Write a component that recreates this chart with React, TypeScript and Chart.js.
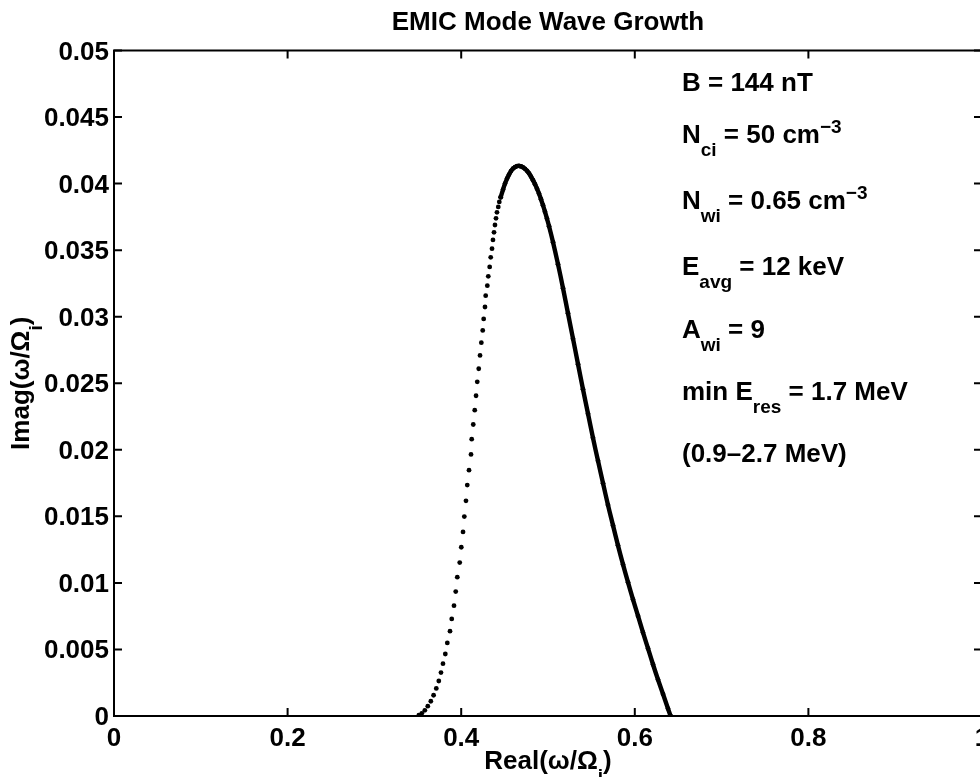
import React, { useEffect, useRef } from "react";
import { Chart, registerables } from "chart.js";

Chart.register(...registerables);

// ---- Data ----
// Rising flank: individually visible dots
const flankRe = [
  0.3512, 0.3546, 0.3581, 0.3615, 0.365, 0.3682, 0.3713, 0.3742, 0.3767, 0.379,
  0.3817, 0.384, 0.3871, 0.3891, 0.3917, 0.3937, 0.3955, 0.3983, 0.4001, 0.4021,
  0.4036, 0.4055, 0.407, 0.409, 0.4113, 0.4121, 0.4139, 0.4156, 0.4171, 0.4185,
  0.4202, 0.4217, 0.4232, 0.4248, 0.4259, 0.4274, 0.4282, 0.4301, 0.4312, 0.4328,
  0.434, 0.4355, 0.4366, 0.4378, 0.4389, 0.4401, 0.4412, 0.4427, 0.4439, 0.4455,
];
const flankIm = [
  0.00006, 0.0002, 0.00043, 0.00074, 0.00111, 0.00156, 0.00207, 0.00263, 0.00326, 0.00393,
  0.00466, 0.00549, 0.00637, 0.00729, 0.00829, 0.00935, 0.01043, 0.01153, 0.01268, 0.01383,
  0.01498, 0.01617, 0.01735, 0.01847, 0.01965, 0.0208, 0.0219, 0.02298, 0.02406, 0.02511,
  0.02609, 0.02709, 0.02805, 0.02897, 0.02983, 0.03073, 0.03158, 0.03233, 0.03303, 0.03374,
  0.03446, 0.03511, 0.03577, 0.03634, 0.03689, 0.03739, 0.03784, 0.03825, 0.03862, 0.03897,
];
// Crest and falling flank: densely packed dots
const crestRe = [
  0.4455, 0.4482, 0.4505, 0.4528, 0.4551, 0.4574, 0.4597, 0.462, 0.4643, 0.4666,
  0.4689, 0.4712, 0.4735, 0.4758, 0.4781, 0.4804, 0.4827, 0.485, 0.4873, 0.4896,
  0.4919, 0.4942, 0.4965, 0.4988, 0.5012, 0.5058, 0.5115, 0.5173, 0.523, 0.5288,
  0.5346, 0.5403, 0.5461, 0.5518, 0.5576, 0.5634, 0.5691, 0.5749, 0.5806, 0.5864,
  0.5922, 0.5979, 0.6037, 0.6094, 0.6152, 0.621, 0.6267, 0.6325, 0.6382, 0.6412,
];
const crestIm = [
  0.03897, 0.03955, 0.04, 0.04038, 0.04068, 0.04094, 0.04113, 0.04124, 0.04132, 0.04133,
  0.04129, 0.04122, 0.04111, 0.04096, 0.04077, 0.04053, 0.04026, 0.03996, 0.03962, 0.03925,
  0.03883, 0.03838, 0.03789, 0.03737, 0.0368, 0.0356, 0.03395, 0.03214, 0.03026, 0.02835,
  0.02643, 0.02455, 0.02271, 0.0209, 0.01917, 0.01748, 0.01586, 0.01432, 0.01282, 0.01139,
  0.01004, 0.00876, 0.00752, 0.00628, 0.00508, 0.00387, 0.00274, 0.00165, 0.00056, 0.0,
];

const xTickValues = [0, 0.2, 0.4, 0.6, 0.8, 1];
const xTickLabels = ["0", "0.2", "0.4", "0.6", "0.8", "1"];
const yTickValues = [0, 0.005, 0.01, 0.015, 0.02, 0.025, 0.03, 0.035, 0.04, 0.045, 0.05];
const yTickLabels = ["0", "0.005", "0.01", "0.015", "0.02", "0.025", "0.03", "0.035", "0.04", "0.045", "0.05"];

const titleText = "EMIC Mode Wave Growth";
type Part = { t: string; s?: "sub" | "sup" };
const xLabelParts: Part[] = [{ t: "Real(ω/Ω" }, { t: "i", s: "sub" }, { t: ")" }];
const yLabelParts: Part[] = [{ t: "Imag(ω/Ω" }, { t: "i", s: "sub" }, { t: ")" }];
const annotationLines: Part[][] = [
  [{ t: "B = 144 nT" }],
  [{ t: "N" }, { t: "ci", s: "sub" }, { t: " = 50 cm" }, { t: "−3", s: "sup" }],
  [{ t: "N" }, { t: "wi", s: "sub" }, { t: " = 0.65 cm" }, { t: "−3", s: "sup" }],
  [{ t: "E" }, { t: "avg", s: "sub" }, { t: " = 12 keV" }],
  [{ t: "A" }, { t: "wi", s: "sub" }, { t: " = 9" }],
  [{ t: "min E" }, { t: "res", s: "sub" }, { t: " = 1.7 MeV" }],
  [{ t: "(0.9–2.7 MeV)" }],
];
const annotationBaselines = [91, 143, 209, 275, 338, 400, 462];

const FAMILY = '"Liberation Sans", Arial, Helvetica, sans-serif';
const MAIN_FONT = `bold 26px ${FAMILY}`;
const SMALL_FONT = `bold 19px ${FAMILY}`;

function partsWidth(ctx: CanvasRenderingContext2D, parts: Part[]) {
  let w = 0;
  for (const p of parts) {
    ctx.font = p.s ? SMALL_FONT : MAIN_FONT;
    w += ctx.measureText(p.t).width;
  }
  return w;
}

function drawParts(ctx: CanvasRenderingContext2D, parts: Part[], x: number, y: number) {
  let cx = x;
  ctx.textBaseline = "alphabetic";
  ctx.textAlign = "left";
  for (const p of parts) {
    ctx.font = p.s ? SMALL_FONT : MAIN_FONT;
    const dy = p.s === "sub" ? 13 : p.s === "sup" ? -10 : 0;
    ctx.fillText(p.t, cx, y + dy);
    cx += ctx.measureText(p.t).width;
  }
}

const framePlugin = {
  id: "matlabFrame",
  afterDraw(chart: any) {
    const ctx: CanvasRenderingContext2D = chart.ctx;
    const { left, right, top, bottom } = chart.chartArea;
    const xs = chart.scales.x;
    const ys = chart.scales.y;
    const TL = 8;
    ctx.save();
    ctx.strokeStyle = "#000";
    ctx.fillStyle = "#000";
    ctx.lineWidth = 2;
    ctx.strokeRect(left, top, right - left, bottom - top);
    ctx.beginPath();
    xTickValues.forEach((v) => {
      const px = xs.getPixelForValue(v);
      ctx.moveTo(px, bottom);
      ctx.lineTo(px, bottom - TL);
      ctx.moveTo(px, top);
      ctx.lineTo(px, top + TL);
    });
    yTickValues.forEach((v) => {
      const py = ys.getPixelForValue(v);
      ctx.moveTo(left, py);
      ctx.lineTo(left + TL, py);
      ctx.moveTo(right, py);
      ctx.lineTo(right - TL, py);
    });
    ctx.stroke();

    // tick labels
    ctx.font = MAIN_FONT;
    ctx.textBaseline = "alphabetic";
    ctx.textAlign = "center";
    xTickValues.forEach((v, i) => {
      ctx.fillText(xTickLabels[i], xs.getPixelForValue(v), bottom + 30);
    });
    ctx.textAlign = "right";
    yTickValues.forEach((v, i) => {
      ctx.fillText(yTickLabels[i], left - 5, ys.getPixelForValue(v) + 9);
    });

    // title
    ctx.textAlign = "center";
    ctx.fillText(titleText, (left + right) / 2, 30);

    // x label
    const xw = partsWidth(ctx, xLabelParts);
    drawParts(ctx, xLabelParts, (left + right) / 2 - xw / 2, 769);

    // y label (rotated)
    const yw = partsWidth(ctx, yLabelParts);
    ctx.save();
    ctx.translate(29, (top + bottom) / 2);
    ctx.rotate(-Math.PI / 2);
    drawParts(ctx, yLabelParts, -yw / 2, 0);
    ctx.restore();

    // annotations
    annotationLines.forEach((parts, i) => {
      drawParts(ctx, parts, 682, annotationBaselines[i]);
    });
    ctx.restore();
  },
};

export default function App() {
  const canvasRef = useRef<HTMLCanvasElement | null>(null);

  useEffect(() => {
    const canvas = canvasRef.current;
    if (!canvas) return;
    const flank = flankRe.map((x, i) => ({ x, y: flankIm[i] }));
    const crest = crestRe.map((x, i) => ({ x, y: crestIm[i] }));
    const chart = new Chart(canvas, {
      type: "scatter",
      data: {
        datasets: [
          {
            label: "rising",
            data: flank,
            showLine: false,
            pointRadius: 2.4,
            pointBorderWidth: 0,
            pointBackgroundColor: "#000",
            pointBorderColor: "#000",
          },
          {
            label: "crest",
            data: crest,
            showLine: true,
            borderColor: "#000",
            borderWidth: 4.4,
            tension: 0.4,
            pointRadius: 2.4,
            pointBorderWidth: 0,
            pointBackgroundColor: "#000",
            pointBorderColor: "#000",
          },
        ],
      },
      options: {
        responsive: false,
        animation: false,
        events: [],
        layout: { padding: { left: 0, top: 50.5, right: 8, bottom: 0 } },
        plugins: {
          legend: { display: false },
          title: { display: false },
          tooltip: { enabled: false },
        },
        scales: {
          x: {
            type: "linear",
            min: 0,
            max: 1,
            grid: { display: false },
            border: { display: false },
            ticks: { display: false },
            afterFit: (s: any) => {
              s.height = 61;
            },
          },
          y: {
            type: "linear",
            min: 0,
            max: 0.05,
            grid: { display: false },
            border: { display: false },
            ticks: { display: false },
            afterFit: (s: any) => {
              s.width = 114;
            },
          },
        },
      },
      plugins: [framePlugin],
    });
    return () => chart.destroy();
  }, []);

  return (
    <div
      style={{
        position: "absolute",
        left: 0,
        top: 0,
        width: 980,
        height: 777,
        overflow: "hidden",
        background: "#fff",
      }}
    >
      <canvas ref={canvasRef} width={990} height={777} style={{ display: "block" }} />
    </div>
  );
}
